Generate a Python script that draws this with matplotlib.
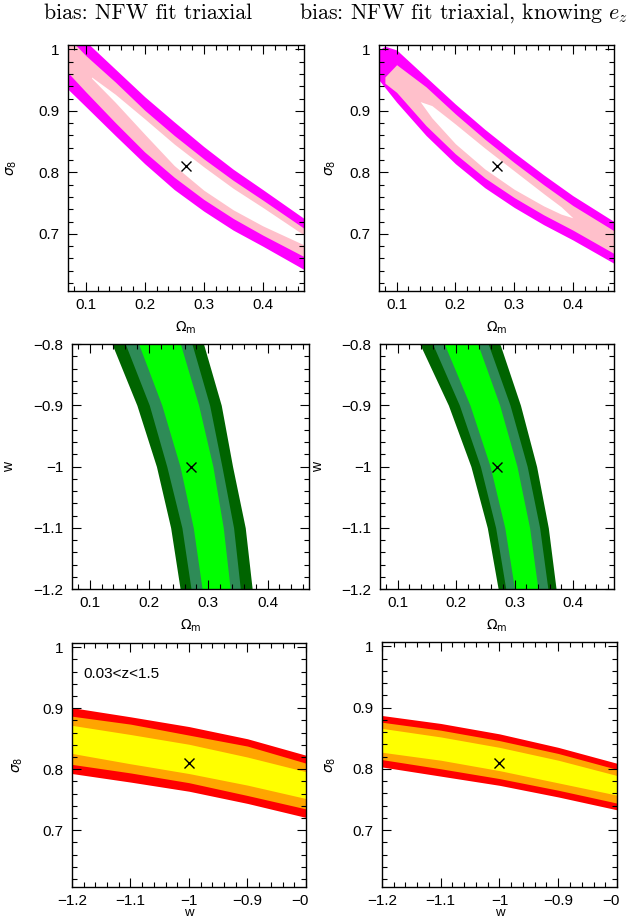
import matplotlib
matplotlib.use('Agg')
import matplotlib.pyplot as plt
from matplotlib.ticker import MultipleLocator, FuncFormatter
from matplotlib.transforms import Bbox, TransformedBbox

plt.rcParams['font.family'] = ['Liberation Sans', 'DejaVu Sans']
plt.rcParams['mathtext.fontset'] = 'dejavusans'

# fiducial point
fid_om, fid_s8, fid_w = 0.27, 0.81, -1.0

# --- top row: sigma8 vs Omega_m (upper / lower edges of each contour) ---
tl_x = [0.07, 0.10, 0.15, 0.20, 0.25, 0.30, 0.35, 0.40, 0.47]
tl_out_hi = [1.05, 1.013, 0.968, 0.923, 0.882, 0.842, 0.805, 0.772, 0.725]
tl_out_lo = [0.935, 0.907, 0.860, 0.814, 0.772, 0.737, 0.706, 0.680, 0.642]
tl_mid_hi = [1.02, 0.990, 0.947, 0.901, 0.860, 0.822, 0.787, 0.755, 0.709]
tl_mid_lo = [0.962, 0.931, 0.881, 0.833, 0.792, 0.756, 0.725, 0.698, 0.663]
tl_in_x = [0.11, 0.15, 0.20, 0.25, 0.30, 0.35, 0.40, 0.47]
tl_in_hi = [0.955, 0.927, 0.887, 0.846, 0.809, 0.774, 0.743, 0.698]
tl_in_lo = [0.953, 0.914, 0.862, 0.811, 0.771, 0.739, 0.713, 0.682]

tr_x = [0.07, 0.08, 0.10, 0.15, 0.20, 0.25, 0.30, 0.35, 0.40, 0.47]
tr_out_hi = [0.999, 1.005, 0.999, 0.955, 0.911, 0.870, 0.832, 0.796, 0.762, 0.720]
tr_out_lo = [0.950, 0.938, 0.914, 0.860, 0.814, 0.775, 0.743, 0.715, 0.690, 0.652]
tr_mid_x = [0.08, 0.10, 0.15, 0.20, 0.25, 0.30, 0.35, 0.40, 0.47]
tr_mid_hi = [0.955, 0.975, 0.939, 0.895, 0.854, 0.816, 0.780, 0.746, 0.705]
tr_mid_lo = [0.945, 0.930, 0.876, 0.830, 0.791, 0.759, 0.731, 0.706, 0.668]
tr_in_x = [0.14, 0.16, 0.20, 0.25, 0.30, 0.35, 0.38, 0.40]
tr_in_hi = [0.915, 0.9085, 0.8785, 0.8395, 0.8025, 0.7655, 0.744, 0.726]
tr_in_lo = [0.915, 0.8885, 0.8465, 0.8055, 0.7725, 0.7455, 0.732, 0.726]

# --- middle row: w vs Omega_m (left / right edges of each band) ---
w_levels = [-0.8, -0.9, -1.0, -1.1, -1.2]
ml_out_l = [0.1375, 0.1795, 0.2125, 0.2365, 0.2525]
ml_mid_l = [0.160, 0.2005, 0.2300, 0.2555, 0.2709]
ml_in_l = [0.1825, 0.2216, 0.2523, 0.2747, 0.2896]
ml_in_r = [0.253, 0.2837, 0.3078, 0.3253, 0.3370]
ml_mid_r = [0.2725, 0.3023, 0.3230, 0.3427, 0.3541]
ml_out_r = [0.292, 0.3219, 0.3410, 0.3624, 0.3741]

mr_out_l = [0.138, 0.1869, 0.2254, 0.2534, 0.272]
mr_mid_l = [0.160, 0.2057, 0.2416, 0.2677, 0.285]
mr_in_l = [0.180, 0.2238, 0.2583, 0.2833, 0.300]
mr_in_r = [0.237, 0.2746, 0.3042, 0.3257, 0.340]
mr_mid_r = [0.255, 0.2923, 0.3216, 0.3429, 0.357]
mr_out_r = [0.275, 0.3101, 0.3377, 0.3577, 0.371]

# --- bottom row: sigma8 vs w ---
w_grid = [-1.2, -1.1, -1.0, -0.9, -0.8]
bl_out_hi = [0.901, 0.886, 0.870, 0.850, 0.823]
bl_mid_hi = [0.887, 0.874, 0.856, 0.838, 0.810]
bl_in_hi = [0.872, 0.857, 0.841, 0.820, 0.796]
bl_in_lo = [0.826, 0.809, 0.793, 0.774, 0.752]
bl_mid_lo = [0.808, 0.794, 0.778, 0.757, 0.735]
bl_out_lo = [0.793, 0.779, 0.764, 0.744, 0.721]

br_out_hi = [0.887, 0.874, 0.857, 0.835, 0.809]
br_mid_hi = [0.876, 0.863, 0.846, 0.825, 0.799]
br_in_hi = [0.866, 0.852, 0.835, 0.814, 0.789]
br_in_lo = [0.827, 0.814, 0.797, 0.777, 0.757]
br_mid_lo = [0.815, 0.800, 0.784, 0.765, 0.744]
br_out_lo = [0.803, 0.788, 0.773, 0.754, 0.733]

om_lim = (0.07, 0.47)
s8_lim = (0.607, 1.007)
w_lim = (-1.2, -0.8)

W, H = 641, 918
fig = plt.figure(figsize=(W / 100, H / 100), dpi=100)


def panel(l, t, r, b):
    return fig.add_axes([l / W, 1 - b / H, (r - l) / W, (b - t) / H])


fmt = FuncFormatter(lambda v, p: ('%g' % round(v, 3)).replace('-', '\u2212'))


def style(ax, xlim, ylim):
    ax.set_xlim(*xlim)
    ax.set_ylim(*ylim)
    for a in (ax.xaxis, ax.yaxis):
        a.set_major_locator(MultipleLocator(0.1))
        a.set_minor_locator(MultipleLocator(0.02))
        a.set_major_formatter(fmt)
    ax.tick_params(which='both', direction='in', top=True, right=True,
                   width=0.8, labelsize=11)
    ax.tick_params(which='major', length=6.5)
    ax.tick_params(which='minor', length=3.5)
    ax.tick_params(axis='x', pad=5)
    ax.tick_params(axis='y', pad=6)
    for s in ax.spines.values():
        s.set_linewidth(1.0)


ax_tl = panel(68, 45, 304, 291)
ax_tr = panel(379, 45, 614, 291)
ax_ml = panel(72, 344, 309, 589)
ax_mr = panel(380, 344, 614, 589)
ax_bl = panel(72, 643, 306, 887)
ax_br = panel(382, 642, 617, 887)

# top row
for ax, x, ohi, olo, mx, mhi, mlo, ix, ihi, ilo in [
        (ax_tl, tl_x, tl_out_hi, tl_out_lo, tl_x, tl_mid_hi, tl_mid_lo, tl_in_x, tl_in_hi, tl_in_lo),
        (ax_tr, tr_x, tr_out_hi, tr_out_lo, tr_mid_x, tr_mid_hi, tr_mid_lo, tr_in_x, tr_in_hi, tr_in_lo)]:
    ax.fill_between(x, olo, ohi, color='#ff00ff', lw=0)
    ax.fill_between(mx, mlo, mhi, color='#ffc0cb', lw=0)
    ax.fill_between(ix, ilo, ihi, color='white', lw=0)
    ax.plot(fid_om, fid_s8, 'x', color='k', ms=7.5, mew=1)
    style(ax, om_lim, s8_lim)
    ax.set_xlabel(r'$\Omega_{\rm m}$', fontsize=10)
    ax.set_ylabel(r'$\sigma_8$', fontsize=10)

# middle row
for ax, ol, ml, il, ir, mr, orr in [
        (ax_ml, ml_out_l, ml_mid_l, ml_in_l, ml_in_r, ml_mid_r, ml_out_r),
        (ax_mr, mr_out_l, mr_mid_l, mr_in_l, mr_in_r, mr_mid_r, mr_out_r)]:
    ax.fill_betweenx(w_levels, ol, orr, color='#006400', lw=0)
    ax.fill_betweenx(w_levels, ml, mr, color='#2e8b57', lw=0)
    ax.fill_betweenx(w_levels, il, ir, color='#00ff00', lw=0)
    ax.plot(fid_om, fid_w, 'x', color='k', ms=7.5, mew=1)
    style(ax, om_lim, w_lim)
    ax.set_xlabel(r'$\Omega_{\rm m}$', fontsize=10)
    ax.set_ylabel('w', fontsize=10)

# bottom row
for ax, ohi, mhi, ihi, ilo, mlo, olo in [
        (ax_bl, bl_out_hi, bl_mid_hi, bl_in_hi, bl_in_lo, bl_mid_lo, bl_out_lo),
        (ax_br, br_out_hi, br_mid_hi, br_in_hi, br_in_lo, br_mid_lo, br_out_lo)]:
    ax.fill_between(w_grid, olo, ohi, color='#ff0000', lw=0)
    ax.fill_between(w_grid, mlo, mhi, color='#ffa500', lw=0)
    ax.fill_between(w_grid, ilo, ihi, color='#ffff00', lw=0)
    ax.plot(fid_w, fid_s8, 'x', color='k', ms=7.5, mew=1)
    style(ax, w_lim, s8_lim)
    ax.set_xlabel('w', fontsize=9.5)
    ax.set_ylabel(r'$\sigma_8$', fontsize=10)

ax_bl.text(0.05, 0.875, '0.03<z<1.5', transform=ax_bl.transAxes,
           fontsize=11, va='center', ha='left')

# label positions
ax_tl.yaxis.set_label_coords(-0.208, 0.5)
ax_tr.yaxis.set_label_coords(-0.174, 0.5)
ax_ml.yaxis.set_label_coords(-0.236, 0.5)
ax_mr.yaxis.set_label_coords(-0.235, 0.5)
ax_bl.yaxis.set_label_coords(-0.20, 0.5)
ax_br.yaxis.set_label_coords(-0.187, 0.5)
for ax in (ax_tl, ax_tr, ax_ml, ax_mr):
    ax.xaxis.set_label_coords(0.5, -0.115)
for ax in (ax_bl, ax_br):
    ax.xaxis.set_label_coords(0.5, -0.08)

fig.text(148 / W, 1 - 13 / H, 'bias: NFW fit triaxial', family='cmr10',
         fontsize=15.8, ha='center', va='center')
fig.text(464 / W, 1 - 13 / H, 'bias: NFW fit triaxial, knowing $e_z$',
         family='cmr10', math_fontfamily='cm', fontsize=15.8,
         ha='center', va='center')

# the original panels were cropped, cutting the last w tick label
fig.canvas.draw()
for ax, x0, x1 in [(ax_bl, 0, 308), (ax_br, 320, 620)]:
    clip = TransformedBbox(Bbox.from_extents(x0 / W, 0, x1 / W, 1), fig.transFigure)
    for t in ax.xaxis.get_major_ticks():
        t.label1.set_clip_box(clip)
        t.label1.set_clip_on(True)

fig.savefig('out.png', dpi=100)
